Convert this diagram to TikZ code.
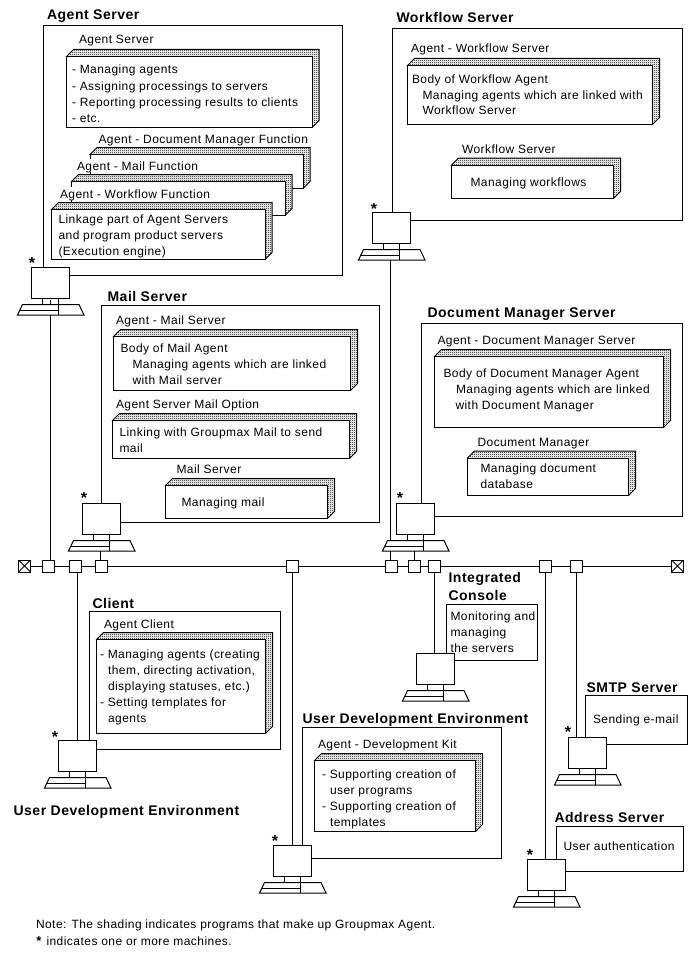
\documentclass[tikz,border=0pt]{standalone}
\usepackage{fontspec}
\setmainfont{Liberation Sans}[LetterSpace=3.8]
\usetikzlibrary{patterns}
\pgfdeclarepatternformonly{dith}{\pgfpointorigin}{\pgfqpoint{2pt}{2pt}}{\pgfqpoint{2pt}{2pt}}{%
  \pgfpathrectangle{\pgfpointorigin}{\pgfqpoint{1pt}{1pt}}%
  \pgfpathrectangle{\pgfqpoint{1pt}{1pt}}{\pgfqpoint{1pt}{1pt}}%
  \pgfusepath{fill}}
\tikzset{
  every path/.style={line width=1pt},
  txt/.style={anchor=north west,inner sep=0pt,outer sep=0pt,align=left,font=\fontsize{12}{16}\selectfont},
  lbl/.style={txt,fill=white},
  hd/.style={txt,yshift=-0.8pt,font=\fontsize{14}{18}\selectfont\bfseries},
  front/.style={draw,fill=white,inner sep=0pt,outer sep=0pt},
  frame/.style={draw,fill=white,inner sep=0pt,outer sep=0pt},
  tap/.style={draw,fill=white,inner sep=0pt,outer sep=0pt,minimum size=12pt},
  term/.style={tap,path picture={\draw (path picture bounding box.north west)--(path picture bounding box.south east)
     (path picture bounding box.north east)--(path picture bounding box.south west);}},
  mon/.style={draw,fill=white,inner sep=0pt,outer sep=0pt,minimum width=38pt,minimum height=31pt},
  st/.style={anchor=base,inner sep=0pt,font=\fontsize{16}{16}\selectfont\bfseries}
}
\newcommand\NL{\\\rule{0pt}{11.2pt}}
\newcommand\TX[5][txt]{\node[#1] (#2) at ({#3},{#4-11.2}) {\rule{0pt}{11.2pt}#5};}
\newcommand\FR[5]{\node[frame,minimum width={(#4-#2)*1pt},minimum height={(#5-#3)*1pt}] (#1) at ({(#2+#4)/2},{(#3+#5)/2}) {};}
\newcommand\SB[5]{%
  \path[fill=white] (#2,#3)--({#2+7},{#3-7})--({#4+7},{#3-7})--({#4+7},{#5-7})--(#4,#5)--cycle;
  \path[pattern=dith] (#2,#3)--({#2+7},{#3-7})--({#4+7},{#3-7})--({#4+7},{#5-7})--(#4,#5)--cycle;
  \draw (#2,#3)--({#2+7},{#3-7})--({#4+7},{#3-7})--({#4+7},{#5-7})--(#4,#5)--cycle;
  \node[front,minimum width={(#4-#2)*1pt},minimum height={(#5-#3)*1pt}] (#1) at ({(#2+#4)/2},{(#3+#5)/2}) {};}
% name, x0, y0 (monitor top-left)
\newcommand\PC[3]{%
  \draw[fill=white] ({#2-9},{#3+37})--({#2+47.5},{#3+37})--({#2+52.5},{#3+47.5})--({#2-14},{#3+47.5})--cycle;
  \draw ({#2-11.5},{#3+42.5})--({#2+27},{#3+42.5});
  \draw ({#2+11},{#3+31})--({#2+11},{#3+37}) ({#2+27},{#3+31})--({#2+27},{#3+47.5});
  \node[mon] (#1) at ({#2+19},{#3+15.5}) {};}
\newcommand\ST[3]{\node[st] (#1) at ({#2},{#3+8.5}) {*};}
\begin{document}
\begin{tikzpicture}[x=1pt,y=-1pt]
\useasboundingbox (0,0) rectangle (697,955);
\fill[white] (0,0) rectangle (697,955);

% headings
\TX[hd]{hA}{47}{18.5}{Agent Server}
\TX[hd]{hW}{396.5}{21.5}{Workflow Server}
\TX[hd]{hM}{107.5}{300.5}{Mail Server}
\TX[hd]{hD}{427.5}{316.5}{Document Manager Server}
\TX[hd]{hC}{92.5}{607.5}{Client}
\TX[hd]{hI}{448.5}{581.5}{Integrated\NL Console}
\TX[hd]{hS}{586.5}{691.5}{SMTP Server}
\TX[hd]{hU}{302.5}{722.5}{User Development Environment}
\TX[hd]{hAd}{554.5}{821.5}{Address Server}
\TX[hd]{hL}{13.5}{815}{User Development Environment}

% frames
\FR{fA}{43.5}{25.5}{342.5}{275.5}
\FR{fW}{392.5}{28.5}{682.5}{220.5}
\FR{fM}{101.5}{305.5}{379.5}{522.5}
\FR{fD}{421.5}{323.5}{682.5}{516.5}
\FR{fC}{89.5}{611.5}{280.5}{749.5}
\FR{fU}{302.5}{727.5}{501.5}{858.5}
\FR{fI}{446.5}{604.5}{537.5}{660.5}
\FR{fS}{585.5}{695.5}{687.5}{744.5}
\FR{fAd}{556.5}{826.5}{683.5}{871.5}

% Agent Server
\TX{lA}{79}{44}{Agent Server}
\SB{bA}{66.5}{56.5}{312}{127.5}
\TX{tA}{72}{74}{- Managing agents\NL - Assigning processings to servers\NL - Reporting processing results to clients\NL - etc.}
\TX{lAd}{98.5}{143}{Agent - Document Manager Function}
\SB{bAd}{90}{154.5}{303}{188.5}
\TX[lbl]{lAm}{77}{170}{Agent - Mail Function}
\SB{bAm}{71.5}{181.5}{285}{215.5}
\TX[lbl]{lAw}{60}{198}{Agent - Workflow Function}
\SB{bAw}{51.5}{209.5}{265}{259.5}
\TX{tAw}{58.5}{223}{Linkage part of Agent Servers\NL and program product servers\NL (Execution engine)}

% Workflow Server
\TX{lW}{411}{52.5}{Agent - Workflow Server}
\SB{bW}{407.5}{65.5}{652.5}{124.5}
\TX{tW}{412}{83}{Body of Workflow Agent\NL \hspace*{10.5pt}Managing agents which are linked with\NL \hspace*{10.5pt}Workflow Server}
\TX{lW2}{462}{153.5}{Workflow Server}
\SB{bW2}{451.5}{165}{613.5}{198.5}
\TX{tW2}{470.5}{186}{Managing workflows}

% Mail Server
\TX{lM}{116}{324.5}{Agent - Mail Server}
\SB{bM}{113.5}{336.5}{350.5}{390.5}
\TX{tM}{120.5}{352.5}{Body of Mail Agent\NL \hspace*{12pt}Managing agents which are linked\NL \hspace*{12pt}with Mail server}
\TX{lM2}{116}{408.5}{Agent Server Mail Option}
\SB{bM2}{112.5}{420.5}{349.5}{458.5}
\TX{tM2}{119.5}{436.5}{Linking with Groupmax Mail to send\NL mail}
\TX{lM3}{176.5}{473.5}{Mail Server}
\SB{bM3}{165.5}{485.5}{327.5}{518.5}
\TX{tM3}{181.5}{506}{Managing mail}

% Document Manager Server
\TX{lD}{437.5}{344}{Agent - Document Manager Server}
\SB{bD}{434.5}{356.5}{663.5}{427.5}
\TX{tD}{443.5}{377.5}{Body of Document Manager Agent\NL \hspace*{12.5pt}Managing agents which are linked\NL \hspace*{12pt}with Document Manager}
\TX{lD2}{477.5}{446}{Document Manager}
\SB{bD2}{467.5}{458}{628.5}{495.5}
\TX{tD2}{480.5}{472.5}{Managing document\NL database}

% Client
\TX{lC}{104}{628.5}{Agent Client}
\SB{bC}{96.5}{639.5}{265.5}{733.5}
\TX{tC}{100}{658.5}{- Managing agents (creating\NL \hspace*{8pt}them, directing activation,\NL \hspace*{8pt}displaying statuses, etc.)\NL - Setting templates for\NL \hspace*{8pt}agents}

% Development kit
\TX{lU}{318}{748.5}{Agent - Development Kit}
\SB{bU}{314.5}{760.5}{475.5}{831.5}
\TX{tU}{322}{778}{- Supporting creation of\NL \hspace*{8pt}user programs\NL - Supporting creation of\NL \hspace*{8pt}templates}

% Plain frames' text
\TX{tI}{450.5}{620}{Monitoring and\NL managing\NL the servers}
\TX{tS}{593}{723}{Sending e-mail}
\TX{tAd}{563.5}{850}{User authentication}

% bus
\node[term] (tL) at (24.5,566) {};
\node[term] (tR) at (677.5,566) {};
\node[tap] (t1) at (48.5,566) {};
\node[tap] (t2) at (75.5,566) {};
\node[tap] (t3) at (101.5,566) {};
\node[tap] (t4) at (292.5,566) {};
\node[tap] (t5) at (391.5,566) {};
\node[tap] (t6) at (414.5,566) {};
\node[tap] (t7) at (434.5,566) {};
\node[tap] (t8) at (545.5,566) {};
\node[tap] (t9) at (576.5,566) {};
\draw (tL)--(t1) (t1)--(t2) (t2)--(t3) (t3)--(t4) (t4)--(t5) (t5)--(t6) (t6)--(t7) (t7)--(t8) (t8)--(t9) (t9)--(tR);
% cables that leave a computer's base, drawn first so the bases cover them
\coordinate (c1) at (50.5,300);
\coordinate (c3) at (100.5,540);
\coordinate (c5) at (390.5,250);
\coordinate (c6) at (414.5,540);
\draw (c1)--(c1 |- t1.north);
\draw (c3)--(c3 |- t3.north);
\draw (c5)--(c5 |- t5.north);
\draw (c6)--(c6 |- t6.north);

% computers
\PC{pA}{31.5}{267.5}\ST{sA}{32}{260}
\PC{pW}{372.5}{212.5}\ST{sW}{374}{205.5}
\PC{pM}{82.5}{503.5}\ST{sM}{84}{495}
\PC{pD}{396.5}{503.5}\ST{sD}{400}{495}
\PC{pC}{58.5}{740.5}\ST{sC}{55}{734}
\PC{pI}{416.5}{653.5}
\PC{pU}{273.5}{845.5}\ST{sU}{275}{838}
\PC{pS}{568.5}{737.5}\ST{sS}{568}{729}
\PC{pAd}{527.5}{859.5}\ST{sAd}{530}{852}

% cables from a tap down to a monitor
\coordinate (c2) at (77.5,572);
\draw (c2)--(c2 |- pC.north);
\draw (t4.south)--(t4.south |- pU.north);
\draw (t7.south)--(t7.south |- pI.north);
\draw (t8.south)--(t8.south |- pAd.north);
\draw (t9.south)--(t9.south |- pS.north);

% notes
\TX{n1}{36}{928.5}{Note: The shading indicates programs that make up Groupmax Agent.}
\node[st,font=\fontsize{13}{13}\selectfont\bfseries] (n2s) at (39,945) {*};
\TX{n2}{46.5}{945}{indicates one or more machines.}
\end{tikzpicture}
\end{document}
